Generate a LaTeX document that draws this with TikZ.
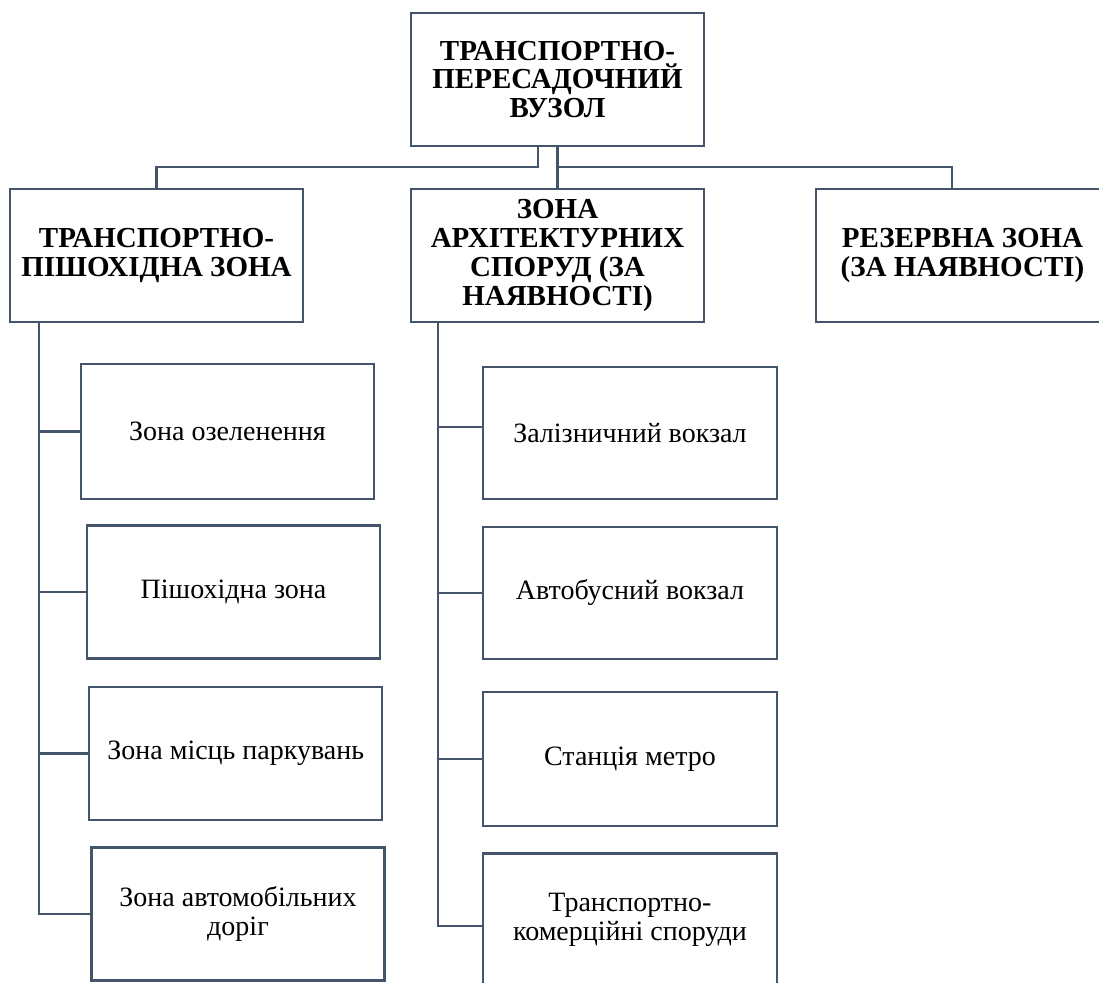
\documentclass[tikz,border=0pt]{standalone}
\usepackage{fontspec}
\setmainfont{Liberation Serif}
\usepackage{xcolor}
\definecolor{liniya}{HTML}{44546A}
\newcommand\shryft{\fontsize{14}{14.2}\selectfont}
\newcommand\zhyrnyi{\fontsize{14.5}{14.4}\selectfont\bfseries}

\tikzset{
    blok/.style={draw=liniya, line width=1.1pt, rectangle, align=center, inner sep=2pt,
        minimum width=146.5pt, minimum height=66.5pt, font=\shryft},
    zona/.style={blok, font=\zhyrnyi},
    zvjazok/.style={draw=liniya, line width=1.1pt}
}

\begin{document}
\begin{tikzpicture}[x=0.5pt, y=-0.5pt]
    \useasboundingbox (0,0) rectangle (1099,983);
    \clip (0,0) rectangle (1099,983);

    % Головний блок
    \node[zona] (vuzol) at (557.5,79.5) {ТРАНСПОРТНО-\\ПЕРЕСАДОЧНИЙ\\ВУЗОЛ};

    % Зони
    \node[zona] (tpz) at (156.5,255.5) {ТРАНСПОРТНО-\\ПІШОХІДНА ЗОНА};
    \node[zona] (zas) at (557.5,255.5) {ЗОНА\\АРХІТЕКТУРНИХ\\СПОРУД (ЗА\\НАЯВНОСТІ)};
    \node[zona] (rez) at (962.5,255.5) {РЕЗЕРВНА ЗОНА\\(ЗА НАЯВНОСТІ)};

    % Транспортно-пішохідна зона
    \node[blok, minimum height=67.5pt] (l1) at (227.5,431.5) {Зона озеленення};
    \node[blok] (l2) at (233.5,592) {Пішохідна зона};
    \node[blok] (l3) at (235.75,753.5) {Зона місць паркувань};
    \node[blok] (l4) at (238,914) {Зона автомобільних\\доріг};

    % Зона архітектурних споруд
    \node[blok, minimum width=147pt, minimum height=66pt] (m1) at (630,433) {Залізничний вокзал};
    \node[blok, minimum width=147pt, minimum height=66pt] (m2) at (630,593) {Автобусний вокзал};
    \node[blok, minimum width=147pt, minimum height=67pt] (m3) at (630,759) {Станція метро};
    \node[blok, minimum width=147pt] (m4) at (630,920) {Транспортно-\\комерційні споруди};

    % Зв'язки від вузла
    \draw[zvjazok] ([xshift=-9.75pt]vuzol.south) -- ++(0,20) -| (tpz.north);
    \draw[zvjazok] (vuzol.south) -- (zas.north);
    \draw[zvjazok] (vuzol.south) ++(0,20) -| ([xshift=-5.25pt]rez.north);

    % Стовбури
    \coordinate (stovbur1) at ([xshift=15pt]tpz.south west);
    \coordinate (stovbur2) at ([xshift=14pt]zas.south west);

    \draw[zvjazok] (stovbur1) |- (l4.west);
    \foreach \i in {1,2,3}
        \draw[zvjazok] (l\i.west) -- (l\i.west -| stovbur1);

    \draw[zvjazok] (stovbur2) |- ([yshift=-3pt]m4.west);
    \draw[zvjazok] ([yshift=3pt]m1.west) -- ([yshift=3pt]m1.west -| stovbur2);
    \foreach \i in {2,3}
        \draw[zvjazok] (m\i.west) -- (m\i.west -| stovbur2);
\end{tikzpicture}
\end{document}
